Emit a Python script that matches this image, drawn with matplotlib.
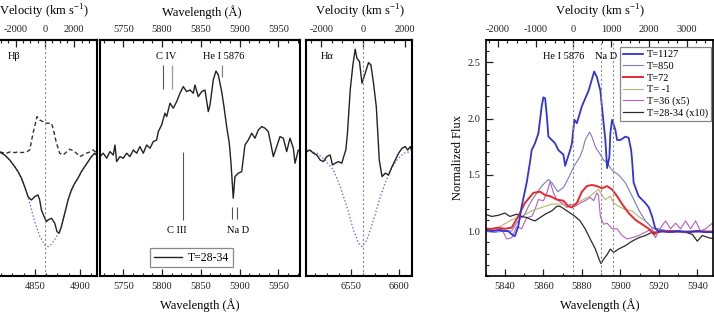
import matplotlib
matplotlib.use("Agg")
import matplotlib.pyplot as plt
from matplotlib.ticker import MultipleLocator, NullLocator
from matplotlib.lines import Line2D

plt.rcParams["font.family"] = ["Liberation Serif", "DejaVu Serif"]
plt.rcParams["mathtext.fontset"] = "custom"
plt.rcParams["mathtext.rm"] = "Liberation Serif"
plt.rcParams["axes.unicode_minus"] = False

C_KMS = 299792.458
HB0, HA0, HE0 = 4861.3, 6562.8, 5875.6
NAD = [5889.95, 5895.92]

# ---- Hbeta panel (T=28-34) ----
hb_wl = [4811.0, 4816.5, 4822.1, 4827.6, 4831.3, 4835.1, 4838.7, 4842.4, 4846.2, 4849.9,
         4853.5, 4855.4, 4857.3, 4861.0, 4862.9, 4864.6, 4868.4, 4872.1, 4874.6, 4876.9,
         4879.5, 4883.2, 4886.9, 4890.6, 4894.3, 4897.9, 4901.7, 4905.4, 4909.1, 4912.9,
         4916.5, 4918.4]
hb_obs = [1.00, 0.985, 0.96, 0.927, 0.902, 0.869, 0.827, 0.777, 0.76, 0.777,
          0.785, 0.76, 0.71, 0.669, 0.652, 0.66, 0.669, 0.644, 0.602, 0.594,
          0.627, 0.694, 0.76, 0.81, 0.844, 0.869, 0.902, 0.927, 0.952, 0.977,
          0.994, 0.985]
hb_fit_wl = [4811.0, 4816.5, 4822.1, 4827.6, 4831.3, 4835.1, 4838.7, 4842.4, 4844.3, 4849.9,
             4855.4, 4861.0, 4864.6, 4868.7, 4873.2, 4877.6, 4879.5, 4883.2, 4886.9, 4890.6,
             4894.3, 4897.9, 4901.7, 4905.4, 4909.1, 4912.9, 4916.5, 4918.4]
hb_fit = [1.00, 0.985, 0.96, 0.927, 0.902, 0.869, 0.827, 0.777, 0.745, 0.65,
          0.58, 0.535, 0.527, 0.54, 0.57, 0.605, 0.627, 0.694, 0.76, 0.81,
          0.844, 0.869, 0.902, 0.927, 0.952, 0.977, 0.994, 0.985]
hb_em_wl = [4811.0, 4818.4, 4822.1, 4827.6, 4831.3, 4835.1, 4840.6, 4844.3, 4848.0, 4852.4,
            4855.4, 4859.1, 4861.0, 4864.6, 4868.4, 4870.2, 4874.0, 4877.6, 4881.3, 4885.1,
            4888.7, 4892.4, 4896.2, 4899.9, 4903.5, 4907.3, 4911.0, 4914.6, 4918.4]
hb_em = [1.00, 0.994, 1.00, 0.997, 1.00, 0.997, 1.00, 1.01, 1.094, 1.177,
         1.16, 1.152, 1.144, 1.144, 1.144, 1.119, 1.044, 0.994, 0.985, 1.00,
         1.014, 1.007, 0.994, 0.977, 0.985, 0.994, 1.00, 1.01, 0.997]

# ---- optical panel 5720-5980 (T=28-34) ----
op_wl = [5719.9, 5724.2, 5728.6, 5732.8, 5737.1, 5739.3, 5741.5, 5745.7, 5750.0, 5754.4,
         5758.6, 5762.9, 5767.3, 5771.5, 5775.8, 5780.2, 5784.5, 5788.7, 5793.1, 5795.2,
         5799.5, 5803.8, 5806.0, 5810.3, 5814.5, 5818.9, 5823.2, 5827.4, 5831.8, 5836.1,
         5840.3, 5842.5, 5846.8, 5851.2, 5855.4, 5859.7, 5861.9, 5866.1, 5869.6, 5872.6,
         5877.0, 5879.9, 5883.4, 5886.8, 5889.0, 5891.9, 5894.1, 5898.4, 5902.8, 5907.0,
         5911.3, 5915.7, 5919.9, 5924.2, 5928.6, 5932.9, 5937.1, 5940.2, 5943.6, 5947.9,
         5952.2, 5956.5, 5960.8, 5965.1, 5969.4, 5971.6, 5975.8, 5978.1]
op_flux = [0.977, 0.994, 0.969, 1.002, 0.985, 1.035, 0.952, 0.977, 0.969, 0.994,
           0.977, 1.01, 0.994, 1.027, 0.994, 1.035, 1.019, 1.052, 1.06, 1.102,
           1.135, 1.194, 1.177, 1.244, 1.219, 1.252, 1.294, 1.327, 1.302, 1.31,
           1.294, 1.335, 1.277, 1.302, 1.31, 1.202, 1.235, 1.36, 1.405, 1.385,
           1.302, 1.227, 1.127, 1.044, 0.944, 0.769, 0.877, 0.894, 0.902, 1.035,
           1.06, 1.094, 1.069, 1.11, 1.127, 1.119, 1.102, 1.044, 0.977, 1.027,
           1.077, 1.069, 1.002, 1.069, 1.019, 0.944, 1.01, 1.002]

# ---- Halpha panel (T=28-34) ----
ha_wl = [6503.8, 6507.2, 6510.7, 6514.3, 6517.8, 6521.2, 6524.8, 6528.3, 6530.7, 6533.5,
         6537.0, 6540.5, 6543.0, 6544.7, 6546.4, 6549.3, 6552.1, 6554.5, 6556.3, 6559.0,
         6561.6, 6565.0, 6568.5, 6571.0, 6573.7, 6576.6, 6578.4, 6579.7, 6582.6, 6586.0,
         6589.5, 6593.1, 6596.5, 6600.0, 6603.6, 6607.0, 6609.5, 6612.3, 6614.7]
ha_obs = [1.002, 1.01, 0.994, 0.985, 0.96, 0.952, 0.977, 0.985, 0.935, 0.944,
          0.952, 0.944, 0.985, 1.01, 1.094, 1.31, 1.435, 1.514, 1.469, 1.452,
          1.344, 1.394, 1.447, 1.435, 1.344, 1.227, 1.077, 0.96, 0.877, 0.894,
          0.885, 0.927, 0.96, 0.994, 1.019, 1.027, 1.01, 1.027, 0.985]
ha_fit_wl = [6503.8, 6514.3, 6523.0, 6531.7, 6538.8, 6545.8, 6552.7, 6558.0, 6561.6, 6566.8,
             6573.7, 6580.8, 6587.1, 6591.3, 6598.3, 6605.3, 6612.3]
ha_fit = [1.01, 0.994, 0.96, 0.91, 0.827, 0.727, 0.61, 0.544, 0.527, 0.56,
          0.66, 0.777, 0.86, 0.91, 0.96, 0.994, 1.002]

# ---- right panel: He I 5876 / Na D region, several epochs ----
t1127_wl = [5830.0, 5833.0, 5836.5, 5840.0, 5841.6, 5844.3, 5845.2, 5846.9, 5848.7, 5851.3,
            5853.0, 5853.9, 5855.6, 5857.4, 5859.1, 5860.0, 5860.9, 5861.8, 5862.6, 5864.4,
            5866.1, 5867.8, 5870.4, 5871.3, 5872.2, 5873.9, 5874.8, 5876.1, 5877.4, 5880.0,
            5883.5, 5886.4, 5887.8, 5889.6, 5890.4, 5892.2, 5893.1, 5894.3, 5894.8, 5895.7,
            5897.4, 5898.3, 5900.0, 5902.6, 5904.3, 5905.6, 5906.1, 5906.9, 5909.5, 5913.0,
            5914.8, 5916.5, 5918.2, 5920.0, 5925.0, 5930.0, 5935.0, 5940.0, 5944.0, 5948.0]
t1127 = [1.01, 1.00, 1.01, 1.00, 1.00, 0.96, 0.955, 1.04, 1.22, 1.43,
         1.61, 1.72, 1.78, 1.87, 2.11, 2.19, 2.18, 2.02, 1.84, 1.81,
         1.78, 1.72, 1.68, 1.58, 1.63, 1.72, 1.78, 1.99, 1.96, 2.11,
         2.25, 2.42, 2.37, 2.25, 2.11, 1.81, 1.56, 1.66, 1.87, 1.99,
         1.90, 1.81, 1.81, 1.84, 1.83, 1.72, 1.63, 1.43, 1.31, 1.25,
         1.21, 1.13, 1.02, 1.00, 0.99, 1.00, 0.99, 1.00, 0.99, 0.99]
t850_wl = [5830.0, 5835.0, 5840.0, 5843.5, 5846.9, 5850.4, 5852.2, 5853.9, 5857.4, 5859.1,
           5862.6, 5864.4, 5867.5, 5870.5, 5873.0, 5876.0, 5879.0, 5880.5, 5881.7, 5884.0,
           5885.2, 5887.0, 5889.6, 5891.3, 5893.1, 5895.7, 5899.1, 5902.6, 5906.1, 5909.5,
           5913.0, 5916.5, 5920.0, 5925.0, 5930.0, 5935.0, 5940.0, 5948.0]
t850 = [1.00, 0.99, 1.00, 1.00, 1.09, 1.15, 1.22, 1.27, 1.36, 1.40,
        1.46, 1.43, 1.35, 1.39, 1.47, 1.58, 1.66, 1.73, 1.81, 1.88,
        1.84, 1.75, 1.68, 1.63, 1.61, 1.54, 1.50, 1.43, 1.31, 1.19,
        1.09, 1.03, 1.02, 1.00, 0.99, 1.00, 0.99, 1.00]
t72_wl = [5829.6, 5833.1, 5836.5, 5840.0, 5843.5, 5846.9, 5850.4, 5854.8, 5858.3, 5860.9,
          5863.5, 5867.0, 5870.4, 5873.0, 5874.8, 5877.4, 5880.0, 5882.6, 5885.2, 5887.8,
          5890.4, 5893.1, 5895.7, 5898.3, 5900.9, 5904.3, 5907.8, 5911.3, 5914.8, 5917.4,
          5920.0, 5927.0, 5933.9, 5940.8, 5948.6]
t72 = [1.02, 1.02, 1.03, 1.02, 1.03, 1.13, 1.25, 1.34, 1.35, 1.32,
       1.31, 1.28, 1.27, 1.22, 1.21, 1.25, 1.35, 1.40, 1.41, 1.40,
       1.38, 1.40, 1.37, 1.31, 1.24, 1.16, 1.10, 1.06, 1.02, 0.97,
       1.00, 1.00, 0.99, 1.00, 0.99]
tm1_wl = [5829.6, 5836.5, 5843.5, 5848.7, 5853.9, 5859.1, 5864.4, 5869.6, 5873.9, 5877.4,
          5880.8, 5884.3, 5887.0, 5888.7, 5890.4, 5892.2, 5894.8, 5896.5, 5899.1, 5902.6,
          5906.1, 5909.5, 5913.0, 5916.5, 5920.0, 5930.0, 5940.0, 5948.0]
tm1 = [1.00, 1.03, 1.10, 1.13, 1.18, 1.21, 1.24, 1.24, 1.22, 1.25,
       1.28, 1.31, 1.35, 1.37, 1.32, 1.28, 1.31, 1.25, 1.22, 1.19,
       1.18, 1.13, 1.09, 1.03, 1.00, 1.00, 1.00, 1.00]
t36_wl = [5829.6, 5834.8, 5838.3, 5840.9, 5843.5, 5846.1, 5848.7, 5851.3, 5853.9, 5855.6,
          5857.4, 5860.0, 5861.8, 5863.5, 5865.2, 5867.0, 5869.6, 5872.2, 5873.9, 5876.5,
          5879.1, 5881.7, 5884.3, 5886.1, 5887.8, 5888.7, 5889.6, 5891.3, 5893.1, 5895.7,
          5898.3, 5900.9, 5903.5, 5906.1, 5909.5, 5913.0, 5916.5, 5918.2, 5920.9, 5923.5,
          5926.1, 5928.7, 5931.3, 5933.9, 5936.5, 5939.1, 5941.7, 5944.3, 5947.8, 5949.0]
t36 = [1.00, 0.99, 1.02, 0.93, 0.94, 1.04, 1.02, 1.12, 1.13, 1.19,
       1.28, 1.27, 1.34, 1.44, 1.34, 1.28, 1.25, 1.21, 1.24, 1.22,
       1.25, 1.27, 1.30, 1.27, 1.34, 1.31, 1.13, 1.06, 1.07, 1.02,
       1.02, 0.96, 0.93, 0.94, 0.96, 0.99, 1.02, 0.94, 1.03, 1.09,
       1.02, 1.07, 1.02, 1.09, 1.02, 1.09, 1.00, 1.02, 1.07, 1.00]
t28_wl = [5829.6, 5833.1, 5836.5, 5840.0, 5842.6, 5846.1, 5848.7, 5851.3, 5853.9, 5855.6,
          5858.3, 5860.9, 5864.4, 5867.0, 5868.7, 5871.3, 5873.9, 5876.5, 5879.1, 5881.7,
          5884.3, 5887.0, 5888.7, 5889.9, 5891.3, 5893.1, 5894.8, 5896.5, 5899.1, 5902.6,
          5906.1, 5909.5, 5913.0, 5916.5, 5920.0, 5923.5, 5927.0, 5930.4, 5933.9, 5937.4,
          5940.0, 5942.6, 5946.0, 5949.0]
t28 = [1.15, 1.13, 1.14, 1.16, 1.13, 1.15, 1.13, 1.12, 1.10, 1.09,
       1.12, 1.15, 1.18, 1.22, 1.22, 1.19, 1.16, 1.13, 1.09, 1.02,
       0.93, 0.84, 0.76, 0.71, 0.75, 0.79, 0.84, 0.81, 0.84, 0.87,
       0.91, 0.94, 0.96, 0.99, 0.99, 1.00, 0.99, 1.00, 0.99, 0.97,
       0.91, 0.96, 0.94, 0.93]

epochs = ["T=1127", "T=850", "T=72", "T= -1", "T=36 (x5)", "T=28-34 (x10)"]
colors = ["#3434d6", "#7a7cc4", "#e8282c", "#b9b46c", "#b460c0", "#2a2a2a"]
widths = [1.3, 0.8, 1.4, 0.8, 0.8, 0.9]

W, H = 714, 313
fig = plt.figure(figsize=(W / 100, H / 100), dpi=100)


def box(x0, x1, y0=40, y1=276):
    return [x0 / W, 1 - y1 / H, (x1 - x0) / W, (y1 - y0) / H]


def style(ax, lw=1.5):
    for s in ax.spines.values():
        s.set_linewidth(lw)
    ax.tick_params(which="both", direction="in", top=False, right=False,
                   labelsize=7.5, pad=4, colors="#222222")
    ax.tick_params(which="major", length=5, width=0.9)
    ax.tick_params(which="minor", length=2.5, width=0.8)


def top_axis(ax, funcs, major, minor):
    sec = ax.secondary_xaxis("top", functions=funcs)
    sec.set_xticks(major)
    sec.xaxis.set_minor_locator(MultipleLocator(minor))
    sec.tick_params(which="both", direction="in", labelsize=7.5, pad=4, colors="#222222")
    sec.tick_params(which="major", length=5, width=0.9)
    sec.tick_params(which="minor", length=2.5, width=0.8)
    sec.spines["top"].set_linewidth(ax.spines["top"].get_linewidth())
    return sec


def vel(l0):
    return (lambda w: (w - l0) / l0 * C_KMS, lambda v: l0 * (1 + v / C_KMS))


YL = (0.38, 1.56)
blue_fit = "#6a6ae6"
gray = "#8c8c8c"

# Hbeta
a1 = fig.add_axes(box(-3, 97))
style(a1)
a1.plot(hb_fit_wl, hb_fit, color=blue_fit, lw=0.9, ls=(0, (1.2, 1.6)))
a1.plot(hb_em_wl, hb_em, color="#333333", lw=1.0, ls=(0, (3, 2)))
a1.plot(hb_wl, hb_obs, color="#222222", lw=1.0)
a1.axvline(HB0, color=gray, lw=0.8, ls=(0, (2, 2)))
a1.set_xlim(4808, 4919)
a1.set_ylim(*YL)
a1.xaxis.set_major_locator(MultipleLocator(50))
a1.xaxis.set_minor_locator(MultipleLocator(12.5))
a1.yaxis.set_major_locator(NullLocator())
top_axis(a1, vel(HB0), [-2000, 0, 2000], 500)
a1.text(4826.5, 0.928, "H\u03b2", transform=a1.get_xaxis_transform(),
        ha="center", va="center", fontsize=7.5)

# optical
a2 = fig.add_axes(box(100, 300))
style(a2)
a2.plot(op_wl, op_flux, color="#222222", lw=1.0, label="T=28-34")
a2.set_xlim(5720, 5978)
a2.set_ylim(*YL)
a2.xaxis.set_major_locator(MultipleLocator(50))
a2.xaxis.set_minor_locator(MultipleLocator(12.5))
a2.yaxis.set_major_locator(NullLocator())
top_axis(a2, (lambda x: x, lambda x: x), [5750, 5800, 5850, 5900, 5950], 12.5)
tr = a2.get_xaxis_transform()
a2.vlines([5801.6], 0.792, 0.894, transform=tr, color="#555555", lw=0.8)
a2.vlines([5813.2], 0.792, 0.894, transform=tr, color="#999999", lw=0.9)
a2.vlines([5877.0], 0.843, 0.894, transform=tr, color="#777777", lw=0.8)
a2.vlines([5827.4], 0.237, 0.525, transform=tr, color="#555555", lw=0.8)
a2.vlines([5890.6, 5897.1], 0.242, 0.292, transform=tr, color="#555555", lw=0.8)
a2.text(5805.1, 0.928, "C IV", transform=tr, ha="center", va="center", fontsize=7.5)
a2.text(5880.0, 0.928, "He I 5876", transform=tr, ha="center", va="center", fontsize=7.5)
a2.text(5819.3, 0.191, "C III", transform=tr, ha="center", va="center", fontsize=7.5)
a2.text(5897.6, 0.191, "Na D", transform=tr, ha="center", va="center", fontsize=7.5)
lg2 = a2.legend(loc="lower left", bbox_to_anchor=(0.25, 0.037), borderaxespad=0,
                fontsize=8.5, handlelength=2.4, handletextpad=0.5, borderpad=0.3,
                fancybox=False, edgecolor="#888888", framealpha=1)
lg2.get_frame().set_linewidth(0.9)

# Halpha
a3 = fig.add_axes(box(306, 412))
style(a3)
a3.plot(ha_fit_wl, ha_fit, color=blue_fit, lw=0.9, ls=(0, (1.2, 1.6)))
a3.plot(ha_wl, ha_obs, color="#222222", lw=1.0)
a3.axvline(HA0, color=gray, lw=0.8, ls=(0, (2, 2)))
a3.set_xlim(6503, 6614)
a3.set_ylim(*YL)
a3.xaxis.set_major_locator(MultipleLocator(50))
a3.xaxis.set_minor_locator(MultipleLocator(12.5))
a3.yaxis.set_major_locator(NullLocator())
top_axis(a3, vel(HA0), [-2000, 0, 2000], 500)
a3.text(6524.6, 0.928, "H\u03b1", transform=a3.get_xaxis_transform(),
        ha="center", va="center", fontsize=7.5)

# right panel
a4 = fig.add_axes(box(485.7, 712.7))
style(a4, lw=1.2)
series = [(t1127_wl, t1127), (t850_wl, t850), (t72_wl, t72),
          (tm1_wl, tm1), (t36_wl, t36), (t28_wl, t28)]
order = [4, 3, 1, 5, 2, 0]
for i in order:
    wl, fl = series[i]
    a4.plot(wl, fl, color=colors[i], lw=widths[i])
for x in [HE0] + NAD:
    a4.axvline(x, color=gray, lw=0.8, ls=(0, (2, 2)))
a4.set_xlim(5830, 5948)
a4.set_ylim(0.6, 2.7)
a4.xaxis.set_major_locator(MultipleLocator(20))
a4.xaxis.set_minor_locator(MultipleLocator(10))
a4.yaxis.set_major_locator(MultipleLocator(0.5))
a4.yaxis.set_minor_locator(MultipleLocator(0.1))
top_axis(a4, vel(HE0), [-2000, -1000, 0, 1000, 2000, 3000], 250)
tr4 = a4.get_xaxis_transform()
a4.text(5870.4, 0.932, "He I 5876", transform=tr4, ha="center", va="center", fontsize=7.5)
a4.text(5892.6, 0.932, "Na D", transform=tr4, ha="center", va="center", fontsize=7.5)
handles = [Line2D([], [], color=c, lw=w) for c, w in zip(colors, widths)]
lg4 = a4.legend(handles, epochs, loc="upper right", bbox_to_anchor=(0.993, 0.970),
                borderaxespad=0, fontsize=7.5, handlelength=1.9, handletextpad=0.4,
                labelspacing=0.22, borderpad=0.3, fancybox=False,
                edgecolor="#888888", framealpha=1)
lg4.get_frame().set_linewidth(0.9)
a4.set_ylabel("Normalized Flux", fontsize=9, labelpad=2)

# axis titles
for x, s in [(44, "Velocity (km s$^{-1}$)"), (202, "Wavelength (\u00c5)"),
             (360, "Velocity (km s$^{-1}$)"), (600, "Velocity (km s$^{-1}$)")]:
    fig.text(x / W, 1 - 12 / H, s, ha="center", va="center", fontsize=9)
for x in [200, 600]:
    fig.text(x / W, 1 - 305 / H, "Wavelength (\u00c5)", ha="center", va="center", fontsize=9)

fig.savefig("out.png", dpi=100)
